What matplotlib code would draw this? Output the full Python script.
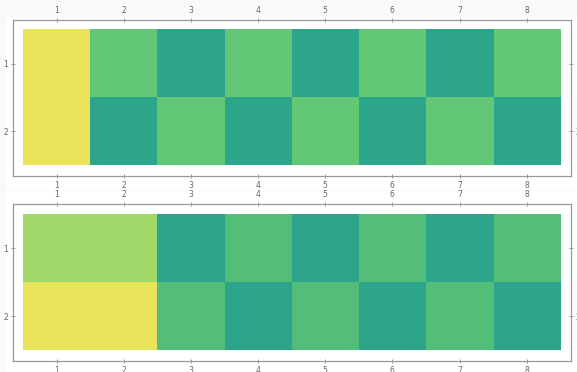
import matplotlib
matplotlib.use('Agg')
import matplotlib.pyplot as plt
from matplotlib.colors import ListedColormap
from matplotlib.patches import Rectangle
import numpy as np

# matrix values (0 = teal, 1 = medium green, 2 = light green, 3 = yellow-green, 4 = yellow)
matriz_arriba = [[4, 2, 0, 2, 0, 2, 0, 2],
                 [4, 0, 2, 0, 2, 0, 2, 0]]
matriz_abajo = [[3, 3, 0, 1, 0, 1, 0, 1],
                [4, 4, 1, 0, 1, 0, 1, 0]]
columnas = [1, 2, 3, 4, 5, 6, 7, 8]
filas = [1, 2]

colores = ListedColormap(['#2ca58a', '#52be7a', '#63c876', '#a0d86a', '#e8e35a'])

fig = plt.figure(figsize=(5.77, 3.72), dpi=100, facecolor='#f9f9f9')
# white image blocks behind the panels
fig.add_artist(Rectangle((6/577, 1-190/372), 571/577, 173/372, transform=fig.transFigure,
                         facecolor='white', edgecolor='none', zorder=-10))
fig.add_artist(Rectangle((6/577, 0), 571/577, 181/372, transform=fig.transFigure,
                         facecolor='white', edgecolor='none', zorder=-10))

pos = [[13/577, 1-176/372, 558/577, 156/372],
       [13/577, 1-361/372, 558/577, 157/372]]

for p, m in zip(pos, [matriz_arriba, matriz_abajo]):
    ax = fig.add_axes(p)
    ax.set_zorder(1)
    ax.set_facecolor('white')
    ax.imshow(np.array(m), cmap=colores, vmin=0, vmax=4, aspect='auto',
              interpolation='nearest',
              extent=(0.5, len(columnas)+0.5, len(filas)+0.5, 0.5))
    ax.set_xlim(0.35, 8.66)
    ax.set_ylim(2.66, 0.35)
    ax.set_xticks(columnas)
    ax.set_yticks(filas)
    ax.tick_params(top=True, right=True, labeltop=True, labelright=True,
                   direction='inout', length=3, width=0.6, color='#888888',
                   labelsize=5.5, labelcolor='#666666', pad=2)
    for s in ax.spines.values():
        s.set_color('#999999')
        s.set_linewidth(0.9)

plt.savefig('out.png', dpi=100, facecolor=fig.get_facecolor())
